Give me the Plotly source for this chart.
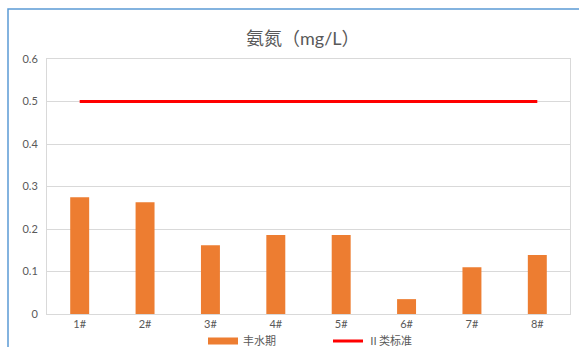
import plotly.graph_objects as go

# 各监测点位氨氮浓度（丰水期）与Ⅱ类标准限值
sites = ["1#", "2#", "3#", "4#", "5#", "6#", "7#", "8#"]
wet_season = [0.275, 0.263, 0.162, 0.186, 0.186, 0.035, 0.110, 0.139]
class2_limit = [0.5, 0.5, 0.5, 0.5, 0.5, 0.5, 0.5, 0.5]
y_ticks = [0, 0.1, 0.2, 0.3, 0.4, 0.5, 0.6]
y_tick_text = ["0", "0.1", "0.2", "0.3", "0.4", "0.5", "0.6"]

W, H = 579, 347
L, R, T, B = 47, 9, 59, 33
pw, ph = W - L - R, H - T - B


def px(xp):
    return (xp - L) / pw


def py(yp):
    return (H - B - yp) / ph


font_family = "Lato, 'Noto Sans CJK SC', sans-serif"
cjk_family = "'Noto Sans CJK SC', sans-serif"
grey = "#595959"
orange = "#ED7D31"

fig = go.Figure()
fig.add_trace(go.Bar(
    x=sites, y=wet_season, name="丰水期", showlegend=False,
    marker=dict(color=orange, line=dict(width=0)),
))
# legend key for the bars drawn as a flat wide swatch
fig.add_trace(go.Scatter(
    x=[None], y=[None], name="丰水期", mode="lines",
    line=dict(color=orange, width=7), legend="legend",
))
fig.add_trace(go.Scatter(
    x=sites, y=class2_limit, name="Ⅱ类标准", mode="lines",
    line=dict(color="#FF0000", width=3), legend="legend2",
))

legend_common = dict(
    orientation="h", yanchor="middle", xanchor="left",
    font=dict(size=11, color=grey, family=cjk_family), itemwidth=30,
    bgcolor="rgba(0,0,0,0)",
)

fig.update_layout(
    width=W, height=H,
    margin=dict(l=L, r=R, t=T, b=B, autoexpand=False),
    paper_bgcolor="white", plot_bgcolor="white",
    bargap=0.71,
    font=dict(family=font_family, color=grey, size=11),
    showlegend=True,
    legend=dict(x=px(203), y=py(341), **legend_common),
    legend2=dict(x=px(328), y=py(341), **legend_common),
    annotations=[dict(
        text="氨氮（mg/L）", x=px(303), y=py(38), xref="paper", yref="paper",
        showarrow=False, xanchor="center", yanchor="middle",
        font=dict(size=18, color=grey, family=font_family),
    )],
    shapes=[dict(
        type="path", xref="paper", yref="paper",
        path=f"M {px(8)},{py(360)} L {px(8)},{py(9)} L {px(590)},{py(9)}",
        line=dict(color="#5B9BD5", width=1.5),
    )],
)
fig.update_xaxes(
    showgrid=False, showline=True, linecolor="#D9D9D9", linewidth=1, mirror=True,
    ticks="", tickfont=dict(size=11, color=grey),
)
fig.update_yaxes(
    range=[0, 0.6], tickvals=y_ticks, ticktext=y_tick_text,
    showgrid=True, gridcolor="#D9D9D9", gridwidth=1,
    showline=True, linecolor="#D9D9D9", linewidth=1, mirror=True,
    zeroline=False, ticks="", ticklabelstandoff=6,
    tickfont=dict(size=11, color=grey),
)

fig.write_html("out.html")
